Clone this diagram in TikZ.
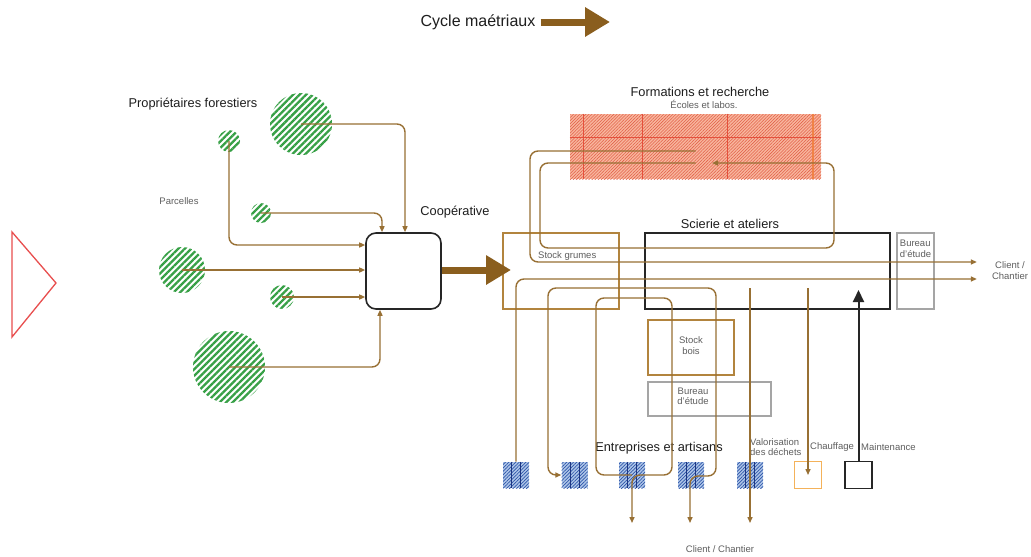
\documentclass[tikz,border=0pt]{standalone}
\usepackage{fontspec}
\setmainfont{Liberation Sans}
\usetikzlibrary{arrows.meta,patterns.meta,calc}
\definecolor{flowc}{RGB}{152,112,52}
\definecolor{thickc}{RGB}{138,94,30}
\definecolor{boxbrown}{RGB}{178,132,62}
\definecolor{treec}{RGB}{55,160,70}
\definecolor{salmon}{RGB}{248,182,158}
\definecolor{redhatch}{RGB}{226,96,72}
\definecolor{redgrid}{RGB}{228,80,60}
\definecolor{orgrid}{RGB}{240,130,70}
\definecolor{bluefill}{RGB}{175,198,232}
\definecolor{bluehatch}{RGB}{45,85,170}
\definecolor{bluegrid}{RGB}{30,55,130}
\definecolor{orangec}{RGB}{244,178,90}
\definecolor{grayc}{RGB}{165,165,165}
\definecolor{textdark}{RGB}{30,30,30}
\definecolor{textgray}{RGB}{95,95,95}
\definecolor{trired}{RGB}{232,78,78}
\begin{document}
\begin{tikzpicture}[x=1pt,y=-1pt,
  big/.style={font=\fontsize{12.8}{15}\selectfont, text=textdark, inner sep=0pt},
  small/.style={font=\fontsize{9.5}{11}\selectfont, text=textgray, inner sep=0pt},
  flow/.style={draw=flowc, line width=1.4pt, rounded corners=8pt, >={Triangle[length=6pt,width=5pt]}},
  bigarrow/.style={draw=thickc, line width=7pt, -{Triangle[length=25pt,width=28pt]}, thickc},
  tree/.style={circle, inner sep=0pt, pattern={Lines[angle=45,distance=4.6pt,line width=2.3pt]}, pattern color=treec},
  bluebox/.style={minimum size=26pt, inner sep=0pt, preaction={fill=bluefill}, pattern={Lines[angle=45,distance=2.4pt,line width=0.7pt]}, pattern color=bluehatch},
  formbox/.style={minimum width=251pt, minimum height=65pt, inner sep=0pt, preaction={fill=salmon}, pattern={Lines[angle=45,distance=2.2pt,line width=0.55pt]}, pattern color=redhatch},
  sgbox/.style={draw=boxbrown, line width=1.3pt, inner sep=0pt},
  graybox/.style={draw=grayc, line width=1.3pt, inner sep=0pt},
  blackbox/.style={draw=black!85, line width=1.6pt, inner sep=0pt},
  coopbox/.style={draw=black!85, line width=1.6pt, rounded corners=10pt, inner sep=0pt, fill=white}
]
\useasboundingbox (0,0) rectangle (1031,557);
\fill[white] (0,0) rectangle (1031,557);

% legend
\node[font=\fontsize{16}{18}\selectfont, text=textdark, inner sep=0pt] (lg) at (478,22) {Cycle maétriaux};
\coordinate (lgtip) at (610,22);
\draw[bigarrow] ([xshift=5pt]lg.east) -- (lgtip);

% left triangle
\draw[trired, line width=1.3pt] (12,232) -- (12,337) -- (56,283) -- cycle;

% forest owners
\node[big] (prop) at (193,104) {Propriétaires forestiers};
\node[small] (parc) at (179,201) {Parcelles};
\node[tree, minimum size=62pt] (c1) at (301,124) {};
\node[tree, minimum size=22pt] (c2) at (229,141) {};
\node[tree, minimum size=20pt] (c3) at (261,213) {};
\node[tree, minimum size=46pt] (c4) at (182,270) {};
\node[tree, minimum size=24pt] (c5) at (282,297) {};
\node[tree, minimum size=72pt] (c6) at (229,367) {};

% cooperative
\node[coopbox, minimum width=75pt, minimum height=76pt] (coop) at (403.5,271) {};
\node[big] (cooplbl) at (455,212) {Coopérative};

% formations
\node[formbox] (fr) at (695.5,146.5) {};
\foreach \gx in {583,642,727}
  \draw[redgrid, line width=0.7pt] (fr.north -| \gx,0) -- (fr.south -| \gx,0);
\draw[orgrid, line width=1.6pt] (fr.north -| 813,0) -- (fr.south -| 813,0);
\draw[redgrid, line width=0.6pt] (fr.west |- 0,137) -- (fr.east |- 0,137);
\node[big] (frl) at (700,92) {Formations et recherche};
\node[small] (frs) at (704,104) {Écoles et labos.};

% sawmill area
\node[sgbox, minimum width=116pt, minimum height=76pt] (sg) at (561,271) {};
\node[small, anchor=west] (sgl) at (538,256) {Stock grumes};
\node[blackbox, minimum width=245pt, minimum height=76pt] (sc) at (767.5,271) {};
\node[big] (scl) at (730,224) {Scierie et ateliers};
\node[graybox, minimum width=37pt, minimum height=76pt] (br) at (915.5,271) {};
\node[small, align=left] (brl) at (915.5,249) {Bureau\\d'étude};
\node[small, align=center, inner xsep=15pt] (cr) at (1010,271) {Client /\\Chantier};

\node[sgbox, minimum width=86pt, minimum height=55pt] (sb) at (691,347.5) {};
\node[small, align=center] (sbl) at (691,346) {Stock\\bois};
\node[graybox, minimum width=123pt, minimum height=34pt] (bu) at (709.5,399) {};
\node[small, align=center, font=\fontsize{9.5}{10}\selectfont] (bul) at (693,396) {Bureau\\d'étude};

% enterprises
\node[big] (ent) at (659,448) {Entreprises et artisans};
\node[bluebox] (e1) at (516,475) {};
\node[bluebox] (e2) at (574.5,475) {};
\node[bluebox] (e3) at (632,475) {};
\node[bluebox] (e4) at (691,475) {};
\node[bluebox] (e5) at (750,475) {};
\foreach \b in {e1,e2,e3,e4,e5} {
  \draw[bluegrid, line width=0.8pt] ($(\b.north west)!1/3!(\b.north east)$) -- ($(\b.south west)!1/3!(\b.south east)$);
  \draw[bluegrid, line width=0.8pt] ($(\b.north west)!2/3!(\b.north east)$) -- ($(\b.south west)!2/3!(\b.south east)$);
}
\node[small, anchor=west, align=left, font=\fontsize{9.5}{10.6}\selectfont] (val) at (750,447) {Valorisation\\des déchets};
\node[small, anchor=west] (chl) at (810,447) {Chauffage};
\node[small, anchor=west] (mtl) at (861,447) {Maintenance};
\node[draw=orangec, line width=1.3pt, minimum size=27pt, inner sep=0pt] (ch) at (808,475) {};
\node[blackbox, minimum size=27pt] (mt) at (858.5,475) {};
\node[small, anchor=north, inner ysep=22pt] (cb) at (720,523) {Client / Chantier};

% flows from forests
\draw[flow,->] (c1.center) -| (coop.north -| 405,0);
\draw[flow,->] (c2.center) |- (coop.west |- 0,245);
\draw[flow,->] (c3.center) -| (coop.north -| 382,0);
\draw[flow,->] (c4.center) -- (coop.west |- c4.center);
\draw[flow,->] (c5.center) -- (coop.west |- c5.center);
\draw[flow,->] (c6.center) -| (coop.south -| 380,0);

% main material flow
\coordinate (sgin) at (511,270);
\draw[bigarrow] (coop.east |- 0,270) -- (sgin);

% flows in the sawmill
\draw[flow,->] (fr.center |- 0,151) -- (530,151) -- (530,262) -- (cr.west |- 0,262);
\draw[flow,->] (fr.center |- 0,163) -- (540,163) -- (540,248) -- (834,248) -- (834,163) -- (712,163);
\draw[flow,->] (e1.north) -- (516,279) -- (cr.west |- 0,279);
\draw[flow,<->] (e2.west) -- (548,475) -- (548,288) -- (716,288) -- (716,476) -- (690,476) -- (cb.north -| 690,0);
\draw[flow,->] (e3.center) -- (596,475) -- (596,298) -- (672,298) -- (672,475) -- (e3.center) -- (cb.north -| e3);
\draw[flow,->] (e5 |- 0,288) -- (cb.north -| e5);
\draw[flow,->] (ch |- 0,288) -- (ch.center);
\draw[black!85, line width=2pt, -{Triangle[length=12pt,width=11pt]}] (mt.north) -- (mt |- 0,290);
\end{tikzpicture}
\end{document}
